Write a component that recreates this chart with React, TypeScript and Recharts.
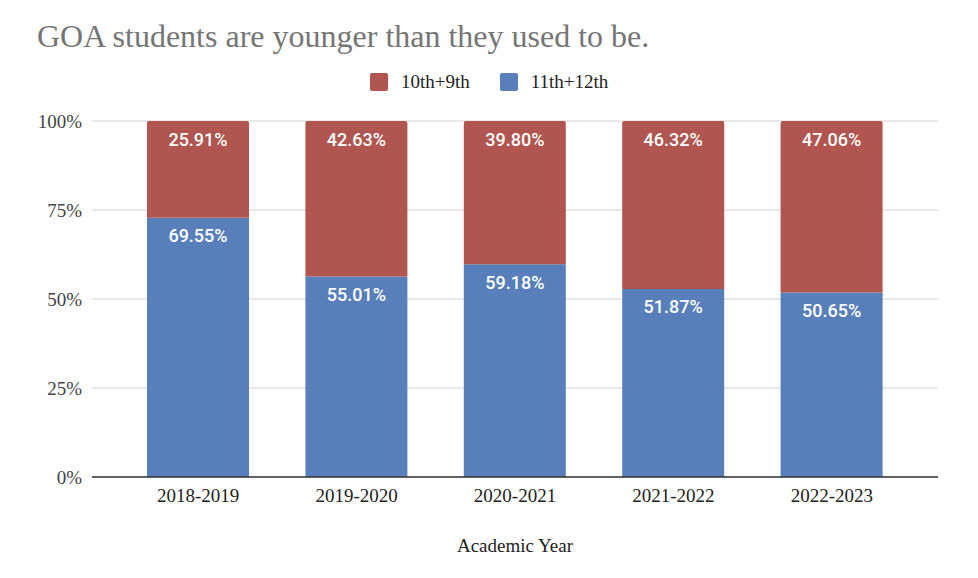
import React from "react";
import { BarChart, Bar, XAxis, YAxis, CartesianGrid, LabelList } from "recharts";

const years = ["2018-2019", "2019-2020", "2020-2021", "2021-2022", "2022-2023"];
const upper = [69.55, 55.01, 59.18, 51.87, 50.65]; // 11th+12th
const lower = [25.91, 42.63, 39.8, 46.32, 47.06]; // 10th+9th
const yTicks = [0, 0.25, 0.5, 0.75, 1];

const seriesNames = { upper: "11th+12th", lower: "10th+9th" };
const RED = "#B0554F";
const BLUE = "#587FB9";

const data = years.map((y, i) => ({ year: y, upper: upper[i], lower: lower[i] }));

const SERIF = '"Liberation Serif", "Times New Roman", serif';

const makeLabel = (arr: number[]) => (props: any) => {
  const { x, y, width, index } = props;
  const v = arr[index];
  return (
    <text
      x={x + width / 2}
      y={y + 18}
      textAnchor="middle"
      dominantBaseline="central"
      fill="#ffffff"
      fontFamily="Roboto, sans-serif"
      fontSize={18}
      fontWeight={500}
    >
      {v.toFixed(2) + "%"}
    </text>
  );
};

export default function App() {
  return (
    <div style={{ position: "absolute", left: 0, top: 0, width: 978, height: 578, background: "#fff" }}>
      <div
        style={{
          position: "absolute",
          left: 37,
          top: 14,
          fontFamily: SERIF,
          fontSize: 32,
          color: "#757575",
          whiteSpace: "nowrap",
          lineHeight: "44px",
        }}
      >
        GOA students are younger than they used to be.
      </div>
      <div
        style={{
          position: "absolute",
          left: 370,
          top: 70,
          display: "flex",
          alignItems: "center",
          fontFamily: SERIF,
          fontSize: 19,
          color: "#222",
          whiteSpace: "nowrap",
          height: 24,
        }}
      >
        <span style={{ display: "inline-block", width: 18, height: 18, background: RED, borderRadius: 2, marginRight: 13 }} />
        <span style={{ marginRight: 30 }}>{seriesNames.lower}</span>
        <span style={{ display: "inline-block", width: 18, height: 18, background: BLUE, borderRadius: 2, marginRight: 13 }} />
        <span>{seriesNames.upper}</span>
      </div>
      <BarChart
        width={978}
        height={578}
        data={data}
        stackOffset="expand"
        margin={{ top: 121, right: 40, left: 0, bottom: 61 }}
      >
        <CartesianGrid vertical={false} stroke="#d3d3d3" />
        <XAxis
          dataKey="year"
          height={40}
          padding={{ left: 27, right: 27 }}
          tickLine={false}
          axisLine={{ stroke: "#333", strokeWidth: 1.5 }}
          tickMargin={6}
          tick={{ fill: "#222", fontFamily: SERIF, fontSize: 19 }}
        />
        <YAxis
          width={92}
          domain={[0, 1]}
          ticks={yTicks}
          tickFormatter={(v: number) => `${Math.round(v * 100)}%`}
          axisLine={false}
          tickLine={false}
          tickMargin={4}
          tick={{ fill: "#444", fontFamily: SERIF, fontSize: 19 }}
        />
        <Bar dataKey="upper" stackId="a" fill={BLUE} barSize={102} isAnimationActive={false}>
          <LabelList content={makeLabel(upper)} />
        </Bar>
        <Bar dataKey="lower" stackId="a" fill={RED} barSize={102} radius={[2, 2, 0, 0]} isAnimationActive={false}>
          <LabelList content={makeLabel(lower)} />
        </Bar>
      </BarChart>
      <div
        style={{
          position: "absolute",
          left: 0,
          width: 978,
          top: 534,
          paddingLeft: 52,
          boxSizing: "border-box",
          textAlign: "center",
          fontFamily: SERIF,
          fontSize: 19,
          color: "#222",
          lineHeight: "24px",
        }}
      >
        Academic Year
      </div>
    </div>
  );
}
